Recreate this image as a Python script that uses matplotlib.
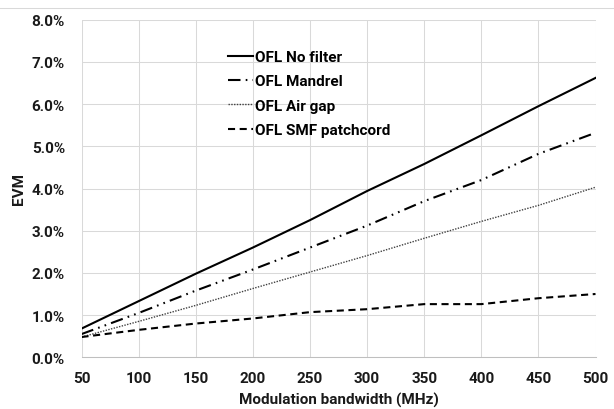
import matplotlib
matplotlib.use('Agg')
import matplotlib.pyplot as plt
from matplotlib.lines import Line2D
from matplotlib.ticker import PercentFormatter

plt.rcParams['font.family'] = ['Roboto', 'DejaVu Sans']
plt.rcParams['font.weight'] = 'bold'

# bandwidth (MHz) and EVM (%)
bandwidth = [50, 100, 150, 200, 250, 300, 350, 400, 450, 500]
evm_no_filter = [0.68, 1.33, 1.98, 2.6, 3.25, 3.94, 4.58, 5.26, 5.95, 6.62]
evm_mandrel = [0.55, 1.05, 1.58, 2.08, 2.6, 3.12, 3.7, 4.2, 4.82, 5.32]
evm_air_gap = [0.48, 0.85, 1.23, 1.63, 2.02, 2.41, 2.82, 3.22, 3.6, 4.03]
evm_smf = [0.48, 0.65, 0.8, 0.92, 1.07, 1.14, 1.26, 1.26, 1.4, 1.5]

fig = plt.figure(figsize=(6.14, 4.10), dpi=100)
ax = fig.add_axes([81.5 / 614, 1 - 358.3 / 410, 514 / 614, 337.6 / 410])

ax.plot(bandwidth, evm_no_filter, color='black', lw=1.5, label='OFL No filter')
ax.plot(bandwidth, evm_mandrel, color='black', lw=1.5,
        linestyle=(0, (6, 2.5, 0.8, 2.5, 0.8, 2.5)), label='OFL Mandrel')
ax.plot(bandwidth, evm_air_gap, color='#404040', lw=1.0,
        linestyle=(0, (1, 1)), label='OFL Air gap')
ax.plot(bandwidth, evm_smf, color='black', lw=1.5,
        linestyle=(0, (3.4, 2.2)), label='OFL SMF patchcord')

ax.set_xlim(50, 500)
ax.set_ylim(0, 8)
ax.set_xticks(bandwidth)
ax.set_yticks(range(0, 9))
ax.yaxis.set_major_formatter(PercentFormatter(decimals=1))
ax.grid(True, color='#d9d9d9', lw=0.75)
ax.set_axisbelow(True)
for s in ['top', 'right', 'left']:
    ax.spines[s].set_visible(False)
ax.spines['bottom'].set_color('#bfbfbf')
ax.spines['bottom'].set_linewidth(0.75)
ax.tick_params(length=0, labelsize=11, colors='#1a1a1a')
ax.tick_params(axis='y', pad=12)
ax.tick_params(axis='x', pad=10)

ax.set_xlabel('Modulation bandwidth (MHz)', fontsize=11, fontweight='bold',
              color='#1a1a1a', labelpad=5)
ax.set_ylabel('EVM', fontsize=11, fontweight='bold', color='#1a1a1a', labelpad=4)

ax.legend(loc='upper left', bbox_to_anchor=(228 / 614, 1 - 51 / 410),
          bbox_transform=fig.transFigure, frameon=False, fontsize=11,
          borderpad=0, borderaxespad=0, handlelength=1.64, handletextpad=0.15,
          labelspacing=0.68, labelcolor='black')

fig.add_artist(Line2D([0, 1], [1 - 9.3 / 410, 1 - 9.3 / 410], color='#d9d9d9', lw=0.75,
                      transform=fig.transFigure))

plt.savefig('out.png', dpi=100)
